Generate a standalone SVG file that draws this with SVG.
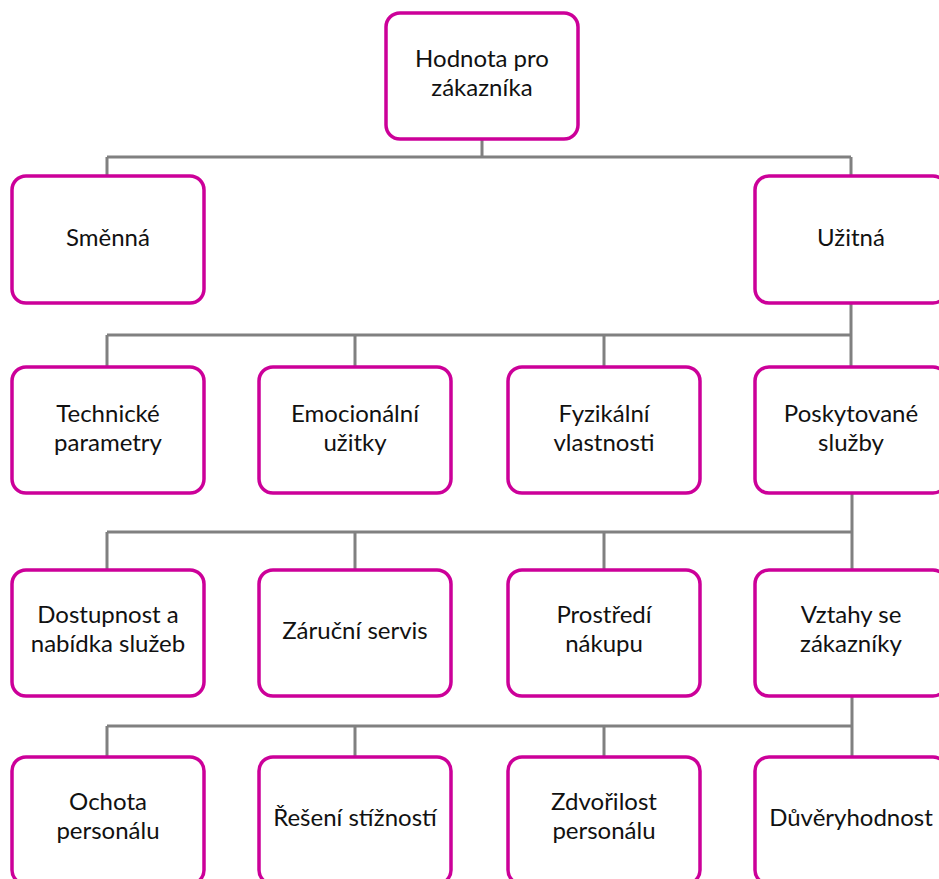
<svg xmlns="http://www.w3.org/2000/svg" width="939" height="879" viewBox="0 0 939 879">
  <style>
    .box { fill: #ffffff; stroke: #cc0099; stroke-width: 3.5; }
    .lbl { font-family: Lato, "Noto Sans", sans-serif; font-size: 24px; fill: #111111; text-anchor: middle; }
    .wire { fill: none; stroke: #808080; stroke-width: 3; }
  </style>
  <rect width="939" height="879" fill="#ffffff"/>

  <!-- tree connectors -->
  <g id="connectors" class="wire">
    <path d="M482 139 V157 M107 157 H851 M107 157 V175 M851 157 V175"/>
    <path d="M851 304 V335 M107 335 H851 M107 335 V367 M355 335 V367 M604 335 V367 M851 335 V367"/>
    <path d="M852 493 V532 M107 532 H852 M107 532 V570 M355 532 V570 M604 532 V570 M852 532 V570"/>
    <path d="M852 696 V726 M107 726 H852 M107 726 V757 M355 726 V757 M604 726 V757 M852 726 V757"/>
  </g>

  <!-- level 0 -->
  <g id="hodnota">
    <rect class="box" x="386" y="13" width="192" height="126" rx="14"/>
    <text class="lbl" x="482" y="67">Hodnota pro</text>
    <text class="lbl" x="482" y="96">zákazníka</text>
  </g>

  <!-- level 1 -->
  <g id="smenna">
    <rect class="box" x="12" y="176" width="192" height="127" rx="14"/>
    <text class="lbl" x="108" y="246">Směnná</text>
  </g>
  <g id="uzitna">
    <rect class="box" x="755" y="176" width="192" height="127" rx="14"/>
    <text class="lbl" x="851" y="246">Užitná</text>
  </g>

  <!-- level 2 -->
  <g id="technicke">
    <rect class="box" x="12" y="367" width="192" height="126" rx="14"/>
    <text class="lbl" x="108" y="422">Technické</text>
    <text class="lbl" x="108" y="451">parametry</text>
  </g>
  <g id="emocionalni">
    <rect class="box" x="259" y="367" width="192" height="126" rx="14"/>
    <text class="lbl" x="355" y="422">Emocionální</text>
    <text class="lbl" x="355" y="451">užitky</text>
  </g>
  <g id="fyzikalni">
    <rect class="box" x="508" y="367" width="192" height="126" rx="14"/>
    <text class="lbl" x="604" y="422">Fyzikální</text>
    <text class="lbl" x="604" y="451">vlastnosti</text>
  </g>
  <g id="poskytovane">
    <rect class="box" x="755" y="367" width="192" height="126" rx="14"/>
    <text class="lbl" x="851" y="422">Poskytované</text>
    <text class="lbl" x="851" y="451">služby</text>
  </g>

  <!-- level 3 -->
  <g id="dostupnost">
    <rect class="box" x="12" y="570" width="192" height="126" rx="14"/>
    <text class="lbl" x="108" y="623">Dostupnost a</text>
    <text class="lbl" x="108" y="652">nabídka služeb</text>
  </g>
  <g id="zarucni">
    <rect class="box" x="259" y="570" width="192" height="126" rx="14"/>
    <text class="lbl" x="355" y="639">Záruční servis</text>
  </g>
  <g id="prostredi">
    <rect class="box" x="508" y="570" width="192" height="126" rx="14"/>
    <text class="lbl" x="604" y="623">Prostředí</text>
    <text class="lbl" x="604" y="652">nákupu</text>
  </g>
  <g id="vztahy">
    <rect class="box" x="755" y="570" width="192" height="126" rx="14"/>
    <text class="lbl" x="851" y="623">Vztahy se</text>
    <text class="lbl" x="851" y="652">zákazníky</text>
  </g>

  <!-- level 4 -->
  <g id="ochota">
    <rect class="box" x="12" y="757" width="192" height="127" rx="14"/>
    <text class="lbl" x="108" y="810">Ochota</text>
    <text class="lbl" x="108" y="839">personálu</text>
  </g>
  <g id="reseni">
    <rect class="box" x="259" y="757" width="192" height="127" rx="14"/>
    <text class="lbl" x="355" y="826">Řešení stížností</text>
  </g>
  <g id="zdvorilost">
    <rect class="box" x="508" y="757" width="192" height="127" rx="14"/>
    <text class="lbl" x="604" y="810">Zdvořilost</text>
    <text class="lbl" x="604" y="839">personálu</text>
  </g>
  <g id="duveryhodnost">
    <rect class="box" x="755" y="757" width="192" height="127" rx="14"/>
    <text class="lbl" x="851" y="826">Důvěryhodnost</text>
  </g>
</svg>
